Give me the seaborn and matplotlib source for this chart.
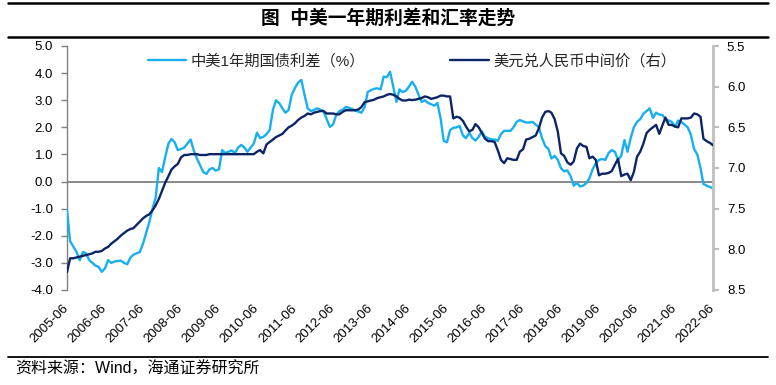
import matplotlib
matplotlib.use("Agg")
import matplotlib.pyplot as plt
from matplotlib.lines import Line2D
from matplotlib.ticker import FormatStrFormatter
import seaborn as sns
import pandas as pd

sns.set_theme(style="white")
plt.rcParams['font.family'] = ['Liberation Sans', 'Noto Sans CJK SC', 'DejaVu Sans']
plt.rcParams['axes.unicode_minus'] = False

# ---------------- data (monthly, 2005-06 .. 2022-06) ----------------
spread_label = "中美1年期国债利差（%）"
fx_label = "美元兑人民币中间价（右）"

spread = [
    # 2005 Jun-Dec
    -1.05, -2.2, -2.4, -2.6, -2.9, -2.6, -2.65,
    # 2006
    -2.9, -3.0, -3.1, -3.15, -3.33, -3.2, -2.9, -3.0, -2.95, -2.93, -2.92, -3.0,
    # 2007
    -3.05, -2.8, -2.7, -2.65, -2.6, -2.3, -1.9, -1.5, -1.0, -0.6, 0.5, 0.35,
    # 2008
    0.9, 1.4, 1.57, 1.45, 1.16, 1.2, 1.25, 1.4, 1.55, 1.15, 0.85, 0.6,
    # 2009
    0.35, 0.28, 0.45, 0.5, 0.4, 0.45, 1.16, 1.05, 1.1, 1.15, 1.05, 1.25,
    # 2010
    1.35, 1.25, 1.1, 1.25, 1.4, 1.8, 1.6, 1.65, 1.75, 1.9, 2.64, 3.0,
    # 2011
    2.89, 2.7, 2.54, 2.64, 3.2, 3.45, 3.65, 3.75, 3.2, 2.7, 2.6, 2.64,
    # 2012
    2.7, 2.65, 2.6, 2.3, 2.02, 2.1, 2.45, 2.6, 2.65, 2.75, 2.72, 2.68,
    # 2013
    2.62, 2.58, 2.54, 2.75, 3.31, 3.37, 3.42, 3.44, 3.4, 3.87, 3.85, 4.05,
    # 2014
    3.5, 2.94, 3.4, 3.3, 3.35, 3.5, 3.68, 3.5, 3.2, 2.94, 3.0, 2.9,
    # 2015
    2.85, 2.8, 2.9, 2.33, 1.5, 1.45, 1.9, 1.98, 2.0, 2.05, 1.7, 1.6,
    # 2016
    1.8, 1.6, 1.51, 1.65, 1.85, 1.65, 1.6, 1.55, 1.55, 1.5, 1.75, 1.87,
    # 2017
    1.87, 1.87, 2.0, 2.2, 2.27, 2.22, 2.18, 2.18, 2.2, 2.1, 2.0, 1.6,
    # 2018
    1.31, 1.2, 0.85, 0.95, 0.8, 0.49, 0.38, 0.41, 0.2, -0.15, -0.05, -0.18,
    # 2019
    -0.15, -0.05, 0.12, 0.45, 0.67, 0.8, 0.83, 0.8, 1.05, 1.16, 1.1, 0.8,
    # 2020
    0.95, 1.53, 1.1, 1.6, 2.0, 2.2, 2.3, 2.5, 2.6, 2.7, 2.35, 2.54,
    # 2021
    2.47, 2.45, 2.3, 2.25, 2.2, 2.02, 2.25, 2.2, 2.1, 2.0, 1.72, 1.2,
    # 2022 Jan-Jun
    1.0, 0.5, -0.09, -0.15, -0.2, -0.25,
]

fx = [
    # 2005 Jun-Dec
    8.28, 8.11, 8.11, 8.10, 8.09, 8.08, 8.07,
    # 2006
    8.06, 8.05, 8.03, 8.03, 8.02, 7.99, 7.97, 7.93, 7.90, 7.87, 7.83, 7.80,
    # 2007
    7.77, 7.75, 7.74, 7.70, 7.66, 7.62, 7.59, 7.57, 7.52, 7.46, 7.38, 7.28,
    # 2008
    7.18, 7.10, 7.02, 6.98, 6.95, 6.87, 6.84, 6.84, 6.83, 6.83, 6.83, 6.84,
    # 2009
    6.84, 6.84, 6.83, 6.83, 6.83, 6.83, 6.83, 6.83, 6.83, 6.83, 6.83, 6.83,
    # 2010
    6.83, 6.83, 6.83, 6.83, 6.83, 6.80, 6.78, 6.82, 6.71, 6.68, 6.65, 6.62,
    # 2011
    6.60, 6.58, 6.54, 6.50, 6.48, 6.45, 6.41, 6.38, 6.36, 6.33, 6.34, 6.32,
    # 2012
    6.31, 6.30, 6.30, 6.33, 6.33, 6.33, 6.34, 6.34, 6.31, 6.29, 6.29, 6.29,
    # 2013
    6.29, 6.28, 6.25, 6.19, 6.18, 6.17, 6.16, 6.14, 6.13, 6.12, 6.10, 6.09,
    # 2014
    6.10, 6.12, 6.15, 6.17, 6.17, 6.16, 6.165, 6.16, 6.15, 6.14, 6.12, 6.13,
    # 2015
    6.15, 6.14, 6.13, 6.11, 6.11, 6.12, 6.12, 6.39, 6.37, 6.38, 6.42, 6.49,
    # 2016
    6.55, 6.53, 6.46, 6.50, 6.57, 6.64, 6.67, 6.67, 6.68, 6.78, 6.90, 6.94,
    # 2017
    6.88, 6.89, 6.90, 6.90, 6.80, 6.77, 6.65, 6.64, 6.62, 6.60, 6.51, 6.38,
    # 2018
    6.31, 6.30, 6.32, 6.40, 6.55, 6.82, 6.85, 6.93, 6.96, 6.92, 6.76, 6.70,
    # 2019
    6.73, 6.74, 6.88, 6.86, 6.90, 7.09, 7.07, 7.07, 7.06, 7.04, 6.96, 6.89,
    # 2020
    7.10, 7.08, 7.07, 7.15, 7.05, 6.86, 6.80, 6.70, 6.57, 6.53, 6.50, 6.47,
    # 2021
    6.58, 6.47, 6.38, 6.47, 6.47, 6.49, 6.50, 6.39, 6.39, 6.39, 6.38, 6.33,
    # 2022 Jan-Jun
    6.34, 6.37, 6.64, 6.67, 6.69, 6.72,
]

tick_labels = ["2005-06", "2006-06", "2007-06", "2008-06", "2009-06", "2010-06",
               "2011-06", "2012-06", "2013-06", "2014-06", "2015-06", "2016-06",
               "2017-06", "2018-06", "2019-06", "2020-06", "2021-06", "2022-06"]

dates = pd.date_range("2005-06-01", periods=len(spread), freq="MS")
df = pd.DataFrame({"date": dates, "spread": spread, "fx": fx})

LIGHT = "#18AFEE"
DARK = "#0C2566"
GRID = "#808080"

W, H = 776, 385
fig = plt.figure(figsize=(W / 100, H / 100), dpi=100)
ax = fig.add_axes([67 / W, 1 - 290 / H, (713 - 67) / W, (290 - 46) / H])

ax.axhline(0, color=GRID, lw=1.3, zorder=1)
sns.lineplot(data=df, x="date", y="spread", ax=ax, color=LIGHT, lw=1.7,
             label=spread_label, zorder=3)
ax2 = ax.twinx()
sns.lineplot(data=df, x="date", y="fx", ax=ax2, color=DARK, lw=1.7,
             label=fx_label, zorder=3)

ax.set_ylim(-4, 5)
ax.set_yticks([5, 4, 3, 2, 1, 0, -1, -2, -3, -4])
ax.yaxis.set_major_formatter(FormatStrFormatter('%.1f'))
ax2.set_ylim(8.5, 5.5)
ax2.set_yticks([5.5, 6.0, 6.5, 7.0, 7.5, 8.0, 8.5])
ax2.yaxis.set_major_formatter(FormatStrFormatter('%.1f'))

ax.set_xlim(dates[0], dates[-1])
ax.set_xticks(pd.to_datetime(tick_labels, format="%Y-%m"))
ax.set_xticklabels(tick_labels, rotation=45, ha='right', va='center',
                   rotation_mode='anchor')
ax.tick_params(axis='x', length=0, pad=12, labelsize=9.5, labelcolor='black')
ax.tick_params(axis='y', direction='out', length=4, width=1, color=GRID,
               labelsize=9.5, labelcolor='black', pad=6)
ax2.tick_params(axis='y', direction='out', length=4, width=1.5, color='#BFBFBF',
                labelsize=9.5, labelcolor='black', pad=6)

ax.set_xlabel("")
ax.set_ylabel("")
ax2.set_ylabel("")
ax.grid(False)
ax2.grid(False)

for s in ["top", "bottom", "right"]:
    ax.spines[s].set_visible(False)
ax.spines["left"].set_color(GRID)
ax.spines["left"].set_linewidth(1.0)
for s in ["top", "bottom", "left"]:
    ax2.spines[s].set_visible(False)
ax2.spines["right"].set_color("#BFBFBF")
ax2.spines["right"].set_linewidth(2.0)

ax.get_legend().remove()
ax2.get_legend().remove()
handles = [Line2D([], [], color=LIGHT, lw=1.7), Line2D([], [], color=DARK, lw=1.7)]
ax2.legend(handles, [spread_label, fx_label], ncol=2, loc='upper center',
           bbox_to_anchor=(0.534, 1.025), frameon=False, fontsize=11,
           handlelength=2.5, handletextpad=0.3, columnspacing=5.6)

# title, rules, source
fig.text(0.5, 1 - 18 / H, "图  中美一年期利差和汇率走势", ha='center', va='center',
         fontsize=13.5, fontweight='bold', color='black')
for yy, lw in [(3, 1.8), (37, 1.8), (357, 1.3)]:
    fig.add_artist(Line2D([8 / W, 768 / W], [1 - yy / H, 1 - yy / H],
                          color='black', lw=lw))
fig.text(15 / W, 1 - 369 / H, "资料来源：Wind，海通证券研究所", ha='left',
         va='center', fontsize=11.5, color='black')

fig.savefig("out.png", dpi=100)
